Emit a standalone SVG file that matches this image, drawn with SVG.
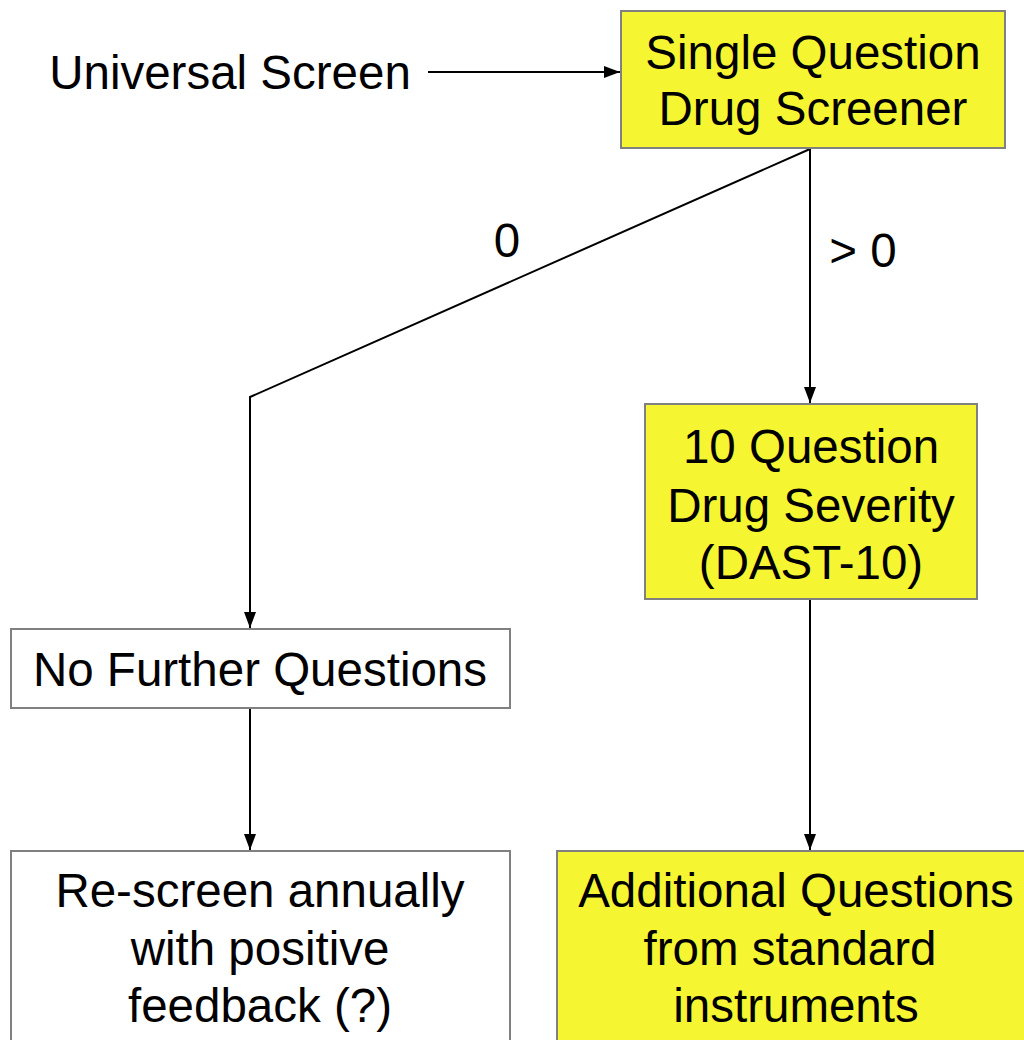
<svg xmlns="http://www.w3.org/2000/svg" width="1024" height="1040" viewBox="0 0 1024 1040">
<defs>
<marker id="ah" viewBox="0 0 16 12" refX="16" refY="6" markerWidth="16" markerHeight="12" markerUnits="userSpaceOnUse" orient="auto">
<path d="M0,0 L16,6 L0,12 z" fill="#000"/>
</marker>
<style>
text{font-family:"Liberation Sans",Arial,sans-serif;font-size:47.5px;fill:#000}
.c{text-anchor:middle}
.y{fill:#F5F532;stroke:#808080;stroke-width:2}
.w{fill:#fff;stroke:#808080;stroke-width:2}
.ln{stroke:#000;stroke-width:2;fill:none}
</style>
</defs>
<rect width="1024" height="1040" fill="#fff"/>
<g id="connectors">
<line class="ln" x1="428" y1="72" x2="620" y2="72" marker-end="url(#ah)"/>
<polyline class="ln" points="810,149 250,397 250,628" marker-end="url(#ah)"/>
<line class="ln" x1="810" y1="149" x2="810" y2="403" marker-end="url(#ah)"/>
<line class="ln" x1="810" y1="600" x2="810" y2="850" marker-end="url(#ah)"/>
<line class="ln" x1="250" y1="709" x2="250" y2="850" marker-end="url(#ah)"/>
<text x="507" y="257" class="c">0</text>
<text x="863" y="267" class="c">&gt; 0</text>
</g>
<g id="universal">
<text x="230" y="89" class="c">Universal Screen</text>
</g>
<g id="single">
<rect class="y" x="621" y="11" width="384" height="137"/>
<text x="813" y="69" class="c">Single Question</text>
<text x="813" y="125" class="c">Drug Screener</text>
</g>
<g id="dast">
<rect class="y" x="645" y="404" width="332" height="195"/>
<text x="811" y="463" class="c">10 Question</text>
<text x="811" y="522" class="c">Drug Severity</text>
<text x="811" y="579" class="c">(DAST-10)</text>
</g>
<g id="nofurther">
<rect class="w" x="11" y="629" width="499" height="79"/>
<text x="260" y="686" class="c">No Further Questions</text>
</g>
<g id="rescreen">
<rect class="w" x="11" y="851" width="499" height="200"/>
<text x="260" y="907" class="c">Re-screen annually</text>
<text x="260" y="965" class="c">with positive</text>
<text x="260" y="1022" class="c">feedback (?)</text>
</g>
<g id="additional">
<rect class="y" x="557" y="851" width="480" height="200"/>
<text x="796" y="907" class="c">Additional Questions</text>
<text x="790" y="965" class="c">from standard</text>
<text x="796" y="1022" class="c">instruments</text>
</g>
</svg>
